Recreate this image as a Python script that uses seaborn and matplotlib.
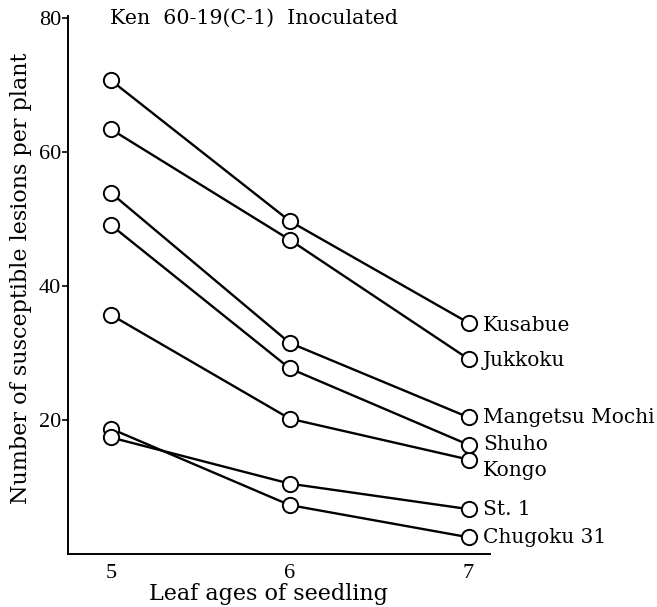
import matplotlib
matplotlib.use("Agg")
import matplotlib.pyplot as plt
import seaborn as sns
import pandas as pd

leaf_ages = [5, 6, 7]
varieties = ["Kusabue", "Jukkoku", "Mangetsu Mochi", "Shuho", "Kongo", "St. 1", "Chugoku 31"]
kusabue = [70.7, 49.7, 34.5]
jukkoku = [63.4, 46.9, 29.1]
mangetsu_mochi = [53.9, 31.5, 20.4]
shuho = [49.1, 27.7, 16.3]
kongo = [35.7, 20.2, 14.1]
st_1 = [17.4, 10.5, 6.7]
chugoku_31 = [18.7, 7.3, 2.5]
series = [kusabue, jukkoku, mangetsu_mochi, shuho, kongo, st_1, chugoku_31]
# vertical nudges (in data units) for end labels that would otherwise collide
label_offsets = [-0.4, -0.2, 0.0, 0.1, -1.6, 0.0, 0.0]

rows = []
for name, vals in zip(varieties, series):
    for age, v in zip(leaf_ages, vals):
        rows.append({"age": age, "lesions": v, "variety": name})
df = pd.DataFrame(rows)

sns.set_theme(style="ticks", rc={"text.color": "black", "axes.labelcolor": "black",
                                 "xtick.color": "black", "ytick.color": "black"})
plt.rcParams["font.family"] = ["Liberation Serif", "DejaVu Serif"]
wide = ["DejaVu Serif"]

fig = plt.figure(figsize=(6.57, 6.07), dpi=100)
ax = fig.add_axes([68 / 657, 53 / 607, (490 - 68) / 657, (554 - 16) / 607])

sns.lineplot(data=df, x="age", y="lesions", units="variety", estimator=None,
             color="black", linewidth=1.7, marker="o", markersize=11,
             markerfacecolor="white", markeredgecolor="black",
             markeredgewidth=1.4, ax=ax)

for name, vals, off in zip(varieties, series, label_offsets):
    ax.text(7.08, vals[-1] + off, name, fontsize=14.5, va="center", ha="left",
            family=wide, clip_on=False)

ax.text(4.995, 80, "Ken  60-19(C-1)  Inoculated", fontsize=14.8, va="center",
        ha="left", family=wide)

ax.set_xlim(4.76, 7.12)
ax.set_ylim(0, 80.3)
ax.set_xticks(leaf_ages)
ax.set_yticks([20, 40, 60, 80])
ax.tick_params(axis="x", length=0, labelsize=16, pad=7)
ax.tick_params(axis="y", direction="out", length=4, width=1.2, labelsize=16, pad=1)
for side in ["top", "right"]:
    ax.spines[side].set_visible(False)
for side in ["left", "bottom"]:
    ax.spines[side].set_linewidth(1.4)
    ax.spines[side].set_color("black")

ax.set_xlabel("Leaf ages of seedling", fontsize=16, family=wide)
ax.xaxis.set_label_coords(0.476, -0.054)
ax.set_ylabel("Number of susceptible lesions per plant", fontsize=16, family=wide)
ax.yaxis.set_label_coords(-0.085, 0.513)

fig.savefig("out.png", dpi=100)
